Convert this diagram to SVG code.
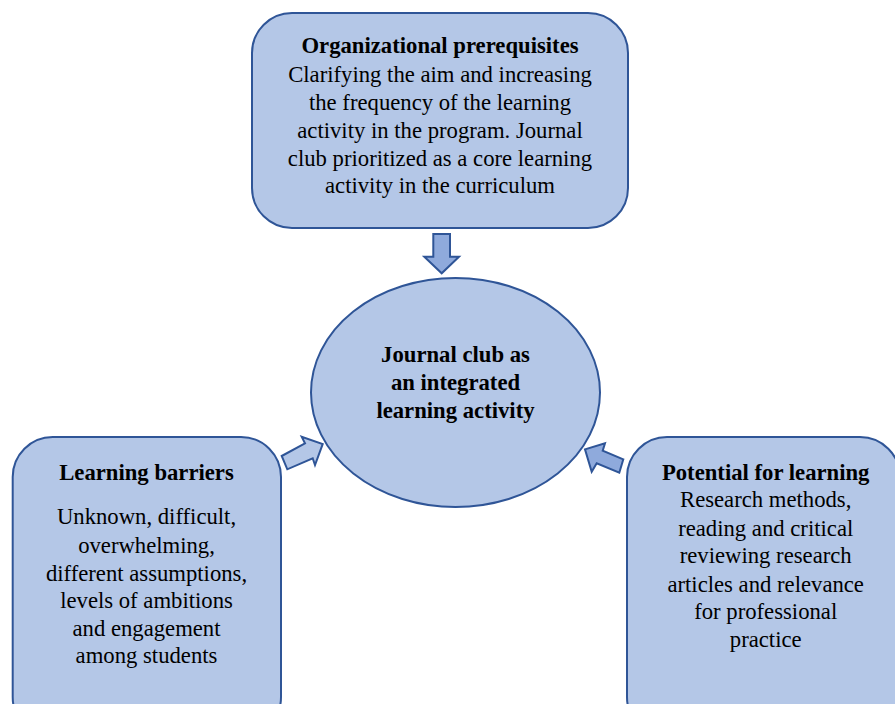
<svg xmlns="http://www.w3.org/2000/svg" width="895" height="704" viewBox="0 0 895 704">
  <style>
    .box { fill: #B4C7E7; stroke: #2F5597; stroke-width: 2; }
    .arrow { stroke: #2F5597; stroke-width: 2; stroke-linejoin: miter; }
    .arrow-dark { fill: #8FAADC; }
    .arrow-light { fill: #B4C7E7; }
    .title { font-weight: bold; }
  </style>
  <rect width="895" height="704" fill="#ffffff"/>

  <!-- Arrows pointing into the central ellipse -->
  <g id="connectors">
    <polygon class="arrow arrow-dark" points="433.3,234 450,234 450,256.7 459,256.7 441.7,273.3 424.3,256.7 433.3,256.7"/>
    <polygon class="arrow arrow-light" points="281.7,456 305,443.3 301.7,436.7 322.7,444 315,465 312.7,458.3 287.3,469.3"/>
    <polygon class="arrow arrow-dark" points="623.3,459.3 602.7,450.7 605,443.3 585,449.3 591.7,471.7 596.7,463.3 619.3,472.7"/>
  </g>

  <g font-family="Liberation Serif, serif" font-size="22.7" fill="#000000" text-anchor="middle">
    <g id="organizational-prerequisites">
      <rect class="box" x="252" y="13" width="376" height="215" rx="40" ry="40"/>
      <text class="title" x="440" y="53.3">Organizational prerequisites</text>
      <text x="440" y="81.7">Clarifying the aim and increasing</text>
      <text x="440" y="110">the frequency of the learning</text>
      <text x="440" y="138">activity in the program. Journal</text>
      <text x="440" y="165.7">club prioritized as a core learning</text>
      <text x="440" y="193">activity in the curriculum</text>
    </g>

    <g id="journal-club">
      <ellipse class="box" cx="455.5" cy="392.5" rx="144.5" ry="114.5"/>
      <text class="title" x="455.5" y="361.7">Journal club as</text>
      <text class="title" x="455.5" y="390">an integrated</text>
      <text class="title" x="455.5" y="418">learning activity</text>
    </g>

    <g id="learning-barriers">
      <rect class="box" x="12.7" y="437" width="268.3" height="300" rx="40" ry="40"/>
      <text class="title" x="146.5" y="480">Learning barriers</text>
      <text x="146.5" y="524.3">Unknown, difficult,</text>
      <text x="146.5" y="552.7">overwhelming,</text>
      <text x="146.5" y="581">different assumptions,</text>
      <text x="146.5" y="608.3">levels of ambitions</text>
      <text x="146.5" y="636">and engagement</text>
      <text x="146.5" y="663.3">among students</text>
    </g>

    <g id="potential-for-learning">
      <rect class="box" x="627" y="437" width="273" height="300" rx="40" ry="40"/>
      <text class="title" x="765.7" y="480">Potential for learning</text>
      <text x="765.7" y="507.3">Research methods,</text>
      <text x="765.7" y="536">reading and critical</text>
      <text x="765.7" y="563.3">reviewing research</text>
      <text x="765.7" y="591.7">articles and relevance</text>
      <text x="765.7" y="619.3">for professional</text>
      <text x="765.7" y="646.7">practice</text>
    </g>
  </g>
</svg>
